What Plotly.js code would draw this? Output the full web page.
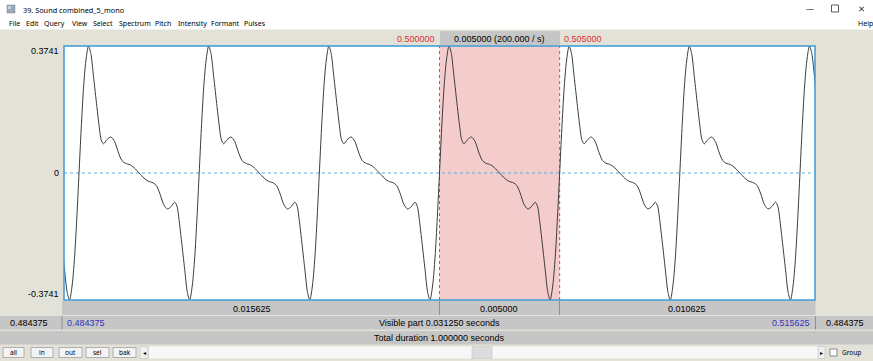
<!DOCTYPE html>
<html>
<head>
<meta charset="utf-8">
<script src="https://cdn.plot.ly/plotly-3.0.1.min.js"></script>
<style>
html,body{margin:0;padding:0;background:#e3e2d8;}
#chart{width:873px;height:361px;}
</style>
</head>
<body>
<div id="chart"></div>
<script>
// ---- data ----
// one period of the waveform: phase offset (ms) from each rising zero crossing, and amplitude
const phaseMs = [0, 0.09, 0.187, 0.284, 0.395, 0.492, 0.603, 0.742, 0.839, 0.922,
  1.019, 1.158, 1.325, 1.477, 1.644, 1.782, 1.921, 2.129, 2.295, 2.5,
  2.705, 2.871, 3.079, 3.218, 3.356, 3.523, 3.675, 3.842, 3.981, 4.078,
  4.161, 4.258, 4.397, 4.508, 4.605, 4.716, 4.813, 4.910];
const periodValues = [0, 0.13, 0.25, 0.33, 0.3741, 0.352, 0.284, 0.196, 0.137, 0.098,
  0.086, 0.098, 0.106, 0.093, 0.059, 0.037, 0.029, 0.024, 0.015, 0,
  -0.015, -0.024, -0.029, -0.037, -0.059, -0.093, -0.106, -0.098, -0.086, -0.098,
  -0.137, -0.196, -0.284, -0.352, -0.3741, -0.33, -0.25, -0.13];
// rising zero crossings (s) of the periods in view
const cycleStarts = [0.480, 0.485, 0.490, 0.495, 0.500, 0.505, 0.510, 0.515];
const viewRange = [0.484375, 0.515625];
const ampRange = [-0.3741, 0.3741];
const selection = [0.500000, 0.505000];
const yTickLabels = ["0.3741", "0", "-0.3741"];
const menuItems = ["File", "Edit", "Query", "View", "Select", "Spectrum", "Pitch", "Intensity", "Formant", "Pulses"];
const buttons = ["all", "in", "out", "sel", "bak"];

// build series
const xs = [], ys = [];
cycleStarts.forEach(t0 => {
  phaseMs.forEach((p, i) => { xs.push(t0 + p / 1000); ys.push(periodValues[i]); });
});

// pixel helpers (plot area: x 64..815, y 46..300)
const L = 64, R = 815, T = 46, B = 300;
const X = px => (px - L) / (R - L);
const Y = py => (B - py) / (B - T);

const shapes = [];
const ann = [];
function rect(x0, y0, x1, y1, fill, line, lw, layer) {
  shapes.push({type: 'rect', xref: 'paper', yref: 'paper', x0: X(x0), x1: X(x1), y0: Y(y1), y1: Y(y0),
    fillcolor: fill, line: {color: line || 'rgba(0,0,0,0)', width: lw || 0}, layer: layer || 'above'});
}
function hline(x0, x1, y, color, w) {
  shapes.push({type: 'line', xref: 'paper', yref: 'paper', x0: X(x0), x1: X(x1), y0: Y(y), y1: Y(y), line: {color: color, width: w || 1}});
}
function vline(x, y0, y1, color, w) {
  shapes.push({type: 'line', xref: 'paper', yref: 'paper', x0: X(x), x1: X(x), y0: Y(y0), y1: Y(y1), line: {color: color, width: w || 1}});
}
function text(t, px, py, opts) {
  opts = opts || {};
  ann.push({text: t, xref: 'paper', yref: 'paper', x: X(px), y: Y(py), showarrow: false,
    xanchor: opts.xa || 'center', yanchor: 'middle',
    font: {family: opts.family || 'Liberation Sans, Arial, sans-serif', size: opts.size || 9, color: opts.color || '#000'}});
}

// title bar + menu (white)
rect(0, 0, 873, 29.5, '#ffffff');
rect(7, 5, 15, 13, '#9aa7b6', '#7d8896', 0.5);
rect(8, 6, 11, 9, '#c9d3de');
text('39. Sound combined_5_mono', 21, 9.5, {xa: 'left', family: 'Noto Sans, Open Sans, sans-serif', size: 7.3});
text('—', 810, 9, {family: 'DejaVu Sans', size: 8, color: '#333'});
rect(831.5, 5, 838.5, 12, 'rgba(0,0,0,0)', '#333', 0.8);
text('✕', 861, 9, {family: 'DejaVu Sans', size: 8.5, color: '#333'});
const menuX = [7, 24, 42, 70, 91, 117, 153, 176, 209, 242];
menuItems.forEach((m, i) => text(m, menuX[i], 23.5, {xa: 'left', family: 'Noto Sans, Open Sans, sans-serif', size: 7}));
text('Help', 856, 23.5, {xa: 'left', family: 'Noto Sans, Open Sans, sans-serif', size: 7});

// top selection info
rect(440, 31, 560, 45, '#c6c6c6');
text(selection[0].toFixed(6), 437, 38.5, {xa: 'right', color: '#e03030'});
text('0.005000 (200.000 / s)', 499, 38.5);
text(selection[1].toFixed(6), 562, 38.5, {xa: 'left', color: '#e03030'});

// y labels
text(yTickLabels[0], 61, 51, {xa: 'right'});
text(yTickLabels[1], 61, 173, {xa: 'right'});
text(yTickLabels[2], 61, 294, {xa: 'right'});

// bottom rows
rect(62, 301, 815.5, 315, '#c6c6c6');
vline(439.5, 301, 315, '#8e8e8e', 1);
vline(559.5, 301, 315, '#8e8e8e', 1);
text('0.015625', 252, 308.5);
text('0.005000', 499, 308.5);
text('0.010625', 687, 308.5);

rect(0, 316, 873, 329.5, '#c6c6c6');
vline(62, 316, 329.5, '#8e8e8e', 1);
vline(815.5, 316, 329.5, '#8e8e8e', 1);
text('0.484375', 29, 323, {});
text(viewRange[0].toFixed(6), 65, 323, {xa: 'left', color: '#3333bb'});
text('Visible part 0.031250 seconds', 439, 323);
text(viewRange[1].toFixed(6), 812, 323, {xa: 'right', color: '#3333bb'});
text('0.484375', 845, 323);

rect(0, 331, 873, 344.5, '#c6c6c6');
text('Total duration 1.000000 seconds', 439, 337.5);

// button row
const bx = [[3, 24], [31, 53], [59, 82], [86, 109], [113, 136]];
buttons.forEach((b, i) => {
  rect(bx[i][0], 347.5, bx[i][1], 357.5, '#f3f3f3', '#a0a0a0', 0.8);
  text(b, (bx[i][0] + bx[i][1]) / 2, 352.5, {size: 6.5, family: 'Noto Sans, sans-serif'});
});
rect(140, 346.5, 148, 358.5, '#f0f0f0', '#c0c0c0', 0.6);
text('◂', 144, 352.5, {size: 6, family: 'DejaVu Sans'});
rect(149, 346.5, 818, 358.5, '#f7f7f7');
rect(472, 346.5, 492, 358.5, '#dcdcdc', '#c8c8c8', 0.6);
rect(818, 346.5, 825, 358.5, '#f0f0f0', '#c0c0c0', 0.6);
text('▸', 821.5, 352.5, {size: 6, family: 'DejaVu Sans'});
rect(830, 349, 837, 356, '#ffffff', '#707070', 0.8);
text('Group', 840, 352.5, {xa: 'left', size: 6.5, family: 'Noto Sans, sans-serif'});

// selection highlight and markers (data coords)
shapes.push({type: 'rect', xref: 'x', yref: 'paper', x0: selection[0], x1: selection[1], y0: 0, y1: 1,
  fillcolor: '#f4cccc', line: {width: 0}, layer: 'below'});
[selection[0], selection[1]].forEach(s => shapes.push({type: 'line', xref: 'x', yref: 'paper', x0: s, x1: s, y0: 0, y1: 1,
  line: {color: '#e04848', width: 1, dash: 'dot'}, layer: 'below'}));
// zero line
shapes.push({type: 'line', xref: 'paper', yref: 'y', x0: 0, x1: 1, y0: 0, y1: 0,
  line: {color: '#5aaedc', width: 1, dash: 'dot'}, layer: 'below'});
// blue border
shapes.push({type: 'rect', xref: 'paper', yref: 'paper', x0: 0, x1: 1, y0: 0, y1: 1,
  fillcolor: 'rgba(0,0,0,0)', line: {color: '#3a9ad4', width: 1.5}, layer: 'above'});

const trace = {x: xs, y: ys, type: 'scatter', mode: 'lines',
  line: {color: '#3c3c3c', width: 1, shape: 'spline', smoothing: 0.8}, hoverinfo: 'skip'};

const layout = {
  width: 873, height: 361,
  margin: {l: L, r: 873 - R, t: T, b: 361 - B, pad: 0},
  paper_bgcolor: '#e3e2d8', plot_bgcolor: '#ffffff',
  showlegend: false,
  xaxis: {range: viewRange, visible: false, fixedrange: true},
  yaxis: {range: ampRange, visible: false, fixedrange: true},
  shapes: shapes, annotations: ann
};
Plotly.newPlot('chart', [trace], layout, {staticPlot: true, displayModeBar: false});
</script>
</body>
</html>
